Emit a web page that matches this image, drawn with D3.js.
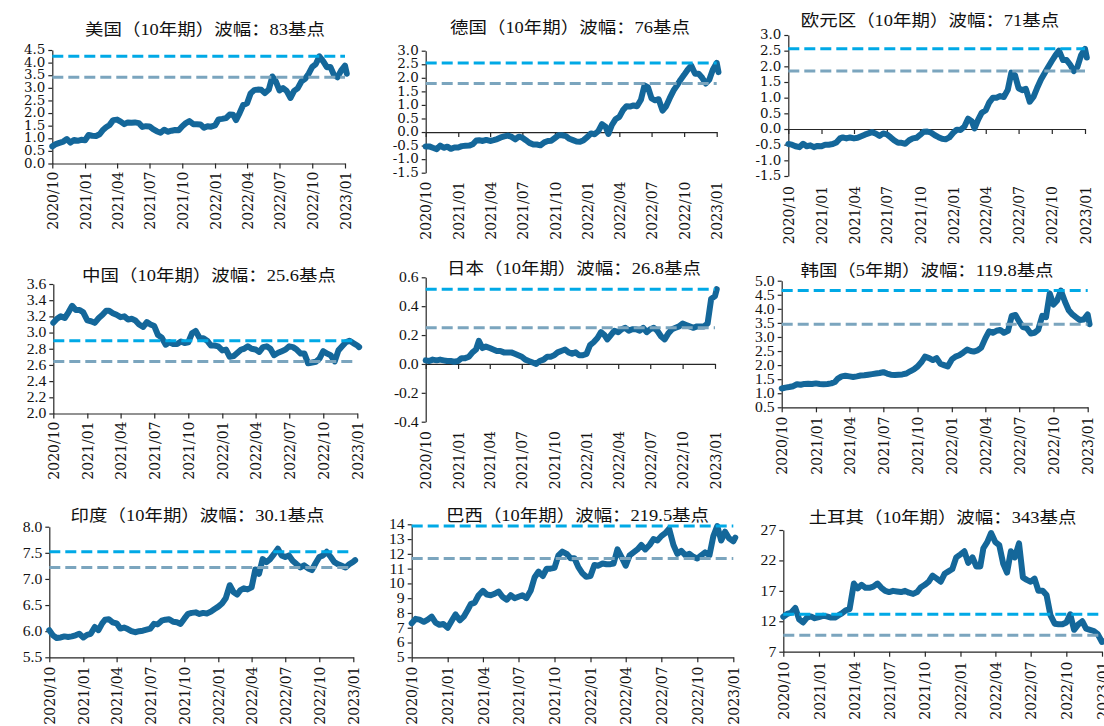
<!DOCTYPE html>
<html>
<head>
<meta charset="utf-8">
<script src="https://cdn.jsdelivr.net/npm/d3@7"></script>
<style>
  body { margin: 0; background: #fff; }
  svg { display: block; }
</style>
</head>
<body>
<svg id="chart" width="1104" height="726"></svg>
<script>
// Observation dates (roughly every ten days), shared by all nine series
const obsDates = [
  "2020-10-01","2020-10-11","2020-10-21","2020-11-01","2020-11-11","2020-11-21","2020-12-01","2020-12-11","2020-12-21",
  "2021-01-01","2021-01-11","2021-01-21","2021-02-01","2021-02-11","2021-02-21","2021-03-01","2021-03-11","2021-03-21",
  "2021-04-01","2021-04-11","2021-04-21","2021-05-01","2021-05-11","2021-05-21","2021-06-01","2021-06-11","2021-06-21",
  "2021-07-01","2021-07-11","2021-07-21","2021-08-01","2021-08-11","2021-08-21","2021-09-01","2021-09-11","2021-09-21",
  "2021-10-01","2021-10-11","2021-10-21","2021-11-01","2021-11-11","2021-11-21","2021-12-01","2021-12-11","2021-12-21",
  "2022-01-01","2022-01-11","2022-01-21","2022-02-01","2022-02-11","2022-02-21","2022-03-01","2022-03-11","2022-03-21",
  "2022-04-01","2022-04-11","2022-04-21","2022-05-01","2022-05-11","2022-05-21","2022-06-01","2022-06-11","2022-06-21",
  "2022-07-01","2022-07-11","2022-07-21","2022-08-01","2022-08-11","2022-08-21","2022-09-01","2022-09-11","2022-09-21",
  "2022-10-01","2022-10-11","2022-10-21","2022-11-01","2022-11-11","2022-11-21","2022-12-01","2022-12-11","2022-12-21",
  "2023-01-01","2023-01-06"
];

// Government bond yields, %
const usYield = [0.68,0.77,0.82,0.87,0.97,0.83,0.93,0.90,0.94,
  0.92,1.13,1.10,1.09,1.16,1.34,1.44,1.53,1.72,
  1.74,1.66,1.56,1.63,1.62,1.63,1.60,1.45,1.48,
  1.47,1.36,1.28,1.22,1.34,1.26,1.30,1.33,1.32,
  1.48,1.60,1.68,1.56,1.56,1.55,1.42,1.48,1.46,
  1.51,1.75,1.77,1.80,1.94,1.93,1.72,2.00,2.32,
  2.39,2.78,2.91,2.93,2.92,2.79,2.93,3.45,3.25,
  2.90,2.99,2.88,2.60,2.88,2.98,3.26,3.36,3.56,
  3.83,3.94,4.25,4.05,3.82,3.83,3.51,3.42,3.68,
  3.88,3.56];

const deYield = [-0.53,-0.53,-0.58,-0.63,-0.50,-0.58,-0.54,-0.62,-0.57,
  -0.57,-0.52,-0.51,-0.50,-0.45,-0.31,-0.30,-0.33,-0.29,
  -0.33,-0.30,-0.26,-0.20,-0.16,-0.13,-0.18,-0.27,-0.17,
  -0.21,-0.30,-0.40,-0.46,-0.46,-0.49,-0.38,-0.33,-0.32,
  -0.22,-0.12,-0.12,-0.15,-0.25,-0.30,-0.35,-0.36,-0.30,
  -0.18,-0.05,-0.08,0.04,0.29,0.20,-0.07,0.26,0.47,
  0.56,0.80,0.95,0.94,0.98,0.95,1.19,1.72,1.65,
  1.24,1.17,1.21,0.79,0.95,1.24,1.53,1.72,1.93,
  2.11,2.30,2.45,2.15,2.15,2.00,1.79,1.93,2.30,
  2.55,2.21];

const euYield = [-0.48,-0.50,-0.55,-0.58,-0.47,-0.55,-0.52,-0.58,-0.54,
  -0.55,-0.50,-0.50,-0.48,-0.43,-0.30,-0.27,-0.30,-0.27,
  -0.30,-0.28,-0.23,-0.18,-0.14,-0.10,-0.15,-0.22,-0.14,
  -0.17,-0.26,-0.36,-0.44,-0.44,-0.47,-0.36,-0.30,-0.28,
  -0.19,-0.09,-0.08,-0.12,-0.20,-0.26,-0.31,-0.33,-0.27,
  -0.12,-0.02,-0.03,0.08,0.33,0.25,0.02,0.30,0.52,
  0.60,0.85,1.00,1.00,1.05,1.02,1.25,1.80,1.72,
  1.30,1.24,1.28,0.87,1.02,1.30,1.58,1.78,1.98,
  2.17,2.35,2.50,2.20,2.20,2.05,1.85,1.98,2.35,
  2.56,2.28];

const cnYield = [3.12,3.17,3.20,3.18,3.25,3.33,3.28,3.28,3.25,
  3.15,3.14,3.12,3.18,3.22,3.27,3.27,3.24,3.22,
  3.19,3.20,3.16,3.17,3.15,3.10,3.07,3.13,3.10,
  3.08,2.97,2.94,2.85,2.88,2.86,2.86,2.89,2.87,
  2.88,2.99,3.02,2.93,2.93,2.90,2.84,2.84,2.83,
  2.78,2.79,2.70,2.71,2.75,2.79,2.80,2.83,2.80,
  2.79,2.76,2.82,2.83,2.80,2.72,2.75,2.77,2.79,
  2.83,2.82,2.79,2.74,2.74,2.62,2.63,2.64,2.68,
  2.77,2.74,2.72,2.644,2.78,2.83,2.88,2.90,2.87,
  2.84,2.82];

const jpYield = [0.025,0.02,0.03,0.025,0.03,0.025,0.02,0.02,0.015,
  0.02,0.04,0.04,0.05,0.08,0.10,0.16,0.11,0.12,
  0.11,0.10,0.09,0.09,0.08,0.08,0.08,0.07,0.06,
  0.05,0.03,0.02,0.01,0.00,0.02,0.03,0.05,0.05,
  0.06,0.08,0.09,0.10,0.08,0.07,0.08,0.06,0.06,
  0.07,0.13,0.15,0.18,0.22,0.20,0.17,0.20,0.23,
  0.22,0.24,0.25,0.23,0.24,0.24,0.23,0.25,0.22,
  0.24,0.25,0.23,0.19,0.17,0.21,0.24,0.25,0.26,
  0.28,0.27,0.26,0.25,0.26,0.26,0.26,0.28,0.45,
  0.47,0.518];

const krYield = [1.17,1.20,1.22,1.25,1.32,1.30,1.33,1.34,1.33,
  1.35,1.33,1.32,1.33,1.35,1.40,1.52,1.60,1.62,
  1.60,1.58,1.60,1.63,1.64,1.66,1.68,1.70,1.72,
  1.75,1.70,1.66,1.65,1.66,1.67,1.70,1.78,1.85,
  1.95,2.10,2.30,2.25,2.18,2.25,2.05,2.00,1.95,
  2.20,2.30,2.35,2.45,2.55,2.50,2.48,2.52,2.62,
  2.95,3.20,3.15,3.22,3.25,3.15,3.22,3.75,3.78,
  3.55,3.35,3.32,3.12,3.15,3.25,3.75,3.70,4.55,
  4.15,4.30,4.65,4.25,3.95,3.80,3.70,3.60,3.62,
  3.80,3.452];

const inYield = [6.02,5.92,5.87,5.88,5.90,5.89,5.90,5.92,5.95,
  5.88,5.93,5.95,6.08,6.02,6.15,6.22,6.23,6.17,
  6.15,6.05,6.07,6.04,6.00,5.98,6.00,6.01,6.03,
  6.05,6.14,6.13,6.20,6.22,6.23,6.18,6.17,6.14,
  6.24,6.33,6.35,6.36,6.33,6.35,6.34,6.37,6.42,
  6.47,6.53,6.63,6.88,6.75,6.70,6.78,6.82,6.80,
  6.84,7.18,7.10,7.38,7.32,7.38,7.48,7.58,7.45,
  7.42,7.45,7.35,7.28,7.22,7.26,7.20,7.17,7.30,
  7.42,7.45,7.52,7.42,7.32,7.28,7.25,7.219,7.28,
  7.33,7.36];

const brYield = [7.30,7.60,7.55,7.40,7.55,7.75,7.35,7.20,7.25,
  7.00,7.45,7.90,7.50,7.75,8.20,8.60,8.70,9.20,
  9.50,9.25,9.20,9.30,9.45,9.10,8.90,9.20,9.00,
  9.10,9.20,9.00,9.50,10.40,10.80,10.50,11.00,11.00,
  11.05,11.90,12.15,12.00,11.70,11.70,11.10,10.70,10.45,
  10.50,11.25,11.20,11.35,11.30,11.30,11.35,12.30,11.80,
  11.20,11.90,12.10,12.30,12.60,12.30,12.60,13.00,12.90,
  13.20,13.40,13.70,12.60,12.00,12.20,11.90,12.00,11.80,
  11.685,11.90,12.10,11.90,13.20,13.88,12.90,13.50,13.05,
  12.85,13.10];

const trYield = [12.75,13.20,13.40,14.20,12.30,11.80,12.60,12.80,12.50,
  12.70,12.90,12.80,12.60,12.60,13.00,13.30,13.80,14.00,
  18.20,17.40,18.00,17.50,17.50,17.70,18.20,17.50,17.00,
  16.80,17.00,16.90,16.80,17.00,16.70,16.50,16.80,17.60,
  18.00,18.50,19.50,19.00,18.50,19.80,20.20,20.60,22.50,
  23.00,23.50,21.60,22.50,21.00,21.00,24.00,25.00,26.50,
  25.00,24.50,21.50,20.00,23.50,22.50,24.80,19.20,18.80,
  18.50,19.00,17.00,17.00,16.30,13.00,11.60,11.50,11.50,
  11.80,13.15,10.60,11.50,12.00,10.80,10.60,10.40,9.90,
  8.60,8.70];

// Recent trading range: upper and lower reference levels, %
const rangeHigh = [4.25, 2.55, 2.56, 2.90, 0.518, 4.65, 7.52, 13.88, 13.15];
const rangeLow  = [3.42, 1.79, 1.85, 2.644, 0.25, 3.452, 7.219, 11.685, 9.72];

const panelTitles = [
  "美国（10年期）波幅：83基点",
  "德国（10年期）波幅：76基点",
  "欧元区（10年期）波幅：71基点",
  "中国（10年期）波幅：25.6基点",
  "日本（10年期）波幅：26.8基点",
  "韩国（5年期）波幅：119.8基点",
  "印度（10年期）波幅：30.1基点",
  "巴西（10年期）波幅：219.5基点",
  "土耳其（10年期）波幅：343基点"
];

const xTickLabels = ["2020/10","2021/01","2021/04","2021/07","2021/10",
                     "2022/01","2022/04","2022/07","2022/10","2023/01"];

const yTickSets = [
  [0.0,0.5,1.0,1.5,2.0,2.5,3.0,3.5,4.0,4.5],
  [-1.5,-1.0,-0.5,0.0,0.5,1.0,1.5,2.0,2.5,3.0],
  [-1.5,-1.0,-0.5,0.0,0.5,1.0,1.5,2.0,2.5,3.0],
  [2.0,2.2,2.4,2.6,2.8,3.0,3.2,3.4,3.6],
  [-0.4,-0.2,0.0,0.2,0.4,0.6],
  [0.5,1.0,1.5,2.0,2.5,3.0,3.5,4.0,4.5,5.0],
  [5.5,6.0,6.5,7.0,7.5,8.0],
  [5,6,7,8,9,10,11,12,13,14],
  [7,12,17,22,27]
];
const yDecimals = [1,1,1,1,1,1,1,0,0];

const seriesList = [usYield, deYield, euYield, cnYield, jpYield, krYield, inYield, brYield, trYield];

// Plot boxes on the page (pixels)
const frames = [
  {left:52.3,  right:345,    top:50,    bottom:163.5, labelTop:171.5, titleX:205,   titleY:35},
  {left:425.7, right:716.7,  top:50.7,  bottom:172.7, labelTop:181.5, titleX:570,   titleY:33},
  {left:788.3, right:1085,   top:35,    bottom:176,   labelTop:186,   titleX:930,   titleY:26},
  {left:53.3,  right:357.3,  top:284,   bottom:413.5, labelTop:421.5, titleX:209,   titleY:281},
  {left:425.7, right:715,    top:277.3, bottom:421.7, labelTop:431,   titleX:574,   titleY:273.5},
  {left:781.7, right:1087.7, top:280.7, bottom:407.3, labelTop:416.5, titleX:927,   titleY:275.5},
  {left:49.3,  right:353.3,  top:526.7, bottom:657.3, labelTop:666.5, titleX:197.5, titleY:520.5},
  {left:411.7, right:733.3,  top:524.3, bottom:657.3, labelTop:666.5, titleX:577.5, titleY:521},
  {left:783.3, right:1102,   top:530,   bottom:651.7, labelTop:661.5, titleX:942.5, titleY:523}
];

const SX = 1.12;            // horizontal text widening
const lineColor = "#14679A";
const highColor = "#00A9E6";
const lowColor  = "#7BA5BE";
const axisColor = "#262626";
const textColor = "#111";

const parseDay = d3.timeParse("%Y-%m-%d");
const parseMonth = d3.timeParse("%Y/%m");
const dates = obsDates.map(parseDay);
const tickDates = xTickLabels.map(parseMonth);

const svg = d3.select("#chart");
svg.append("rect").attr("width", 1104).attr("height", 726).attr("fill", "#fff");

frames.forEach((f, i) => {
  const vals = seriesList[i];
  const ticks = yTickSets[i];
  const g = svg.append("g");

  const x = d3.scaleTime()
    .domain([tickDates[0], tickDates[tickDates.length - 1]])
    .range([f.left, f.right]);
  const y = d3.scaleLinear()
    .domain([ticks[0], ticks[ticks.length - 1]])
    .range([f.bottom, f.top]);

  // value axis
  g.append("g")
    .attr("transform", `translate(${f.left},0)`)
    .call(d3.axisLeft(y).tickValues(ticks).tickSize(4).tickSizeOuter(0).tickFormat(""))
    .call(a => a.selectAll("text").remove());

  // time axis sits on zero when the scale goes negative
  const baseY = ticks[0] < 0 ? y(0) : f.bottom;
  g.append("g")
    .attr("transform", `translate(0,${baseY})`)
    .call(d3.axisBottom(x).tickValues(tickDates).tickSize(5).tickSizeOuter(0).tickFormat(""))
    .call(a => a.selectAll("text").remove());

  g.selectAll(".domain, .tick line")
    .attr("stroke", axisColor)
    .attr("stroke-width", 1.2);

  // value labels
  const yFont = i < 3 ? "'DejaVu Serif', serif" : "'Liberation Serif', serif";
  const ySize = i < 3 ? 12 : 14;
  g.selectAll("text.ylab")
    .data(ticks)
    .join("text")
    .attr("class", "ylab")
    .attr("transform", d => `translate(${f.left - 7},${y(d)}) scale(${SX},1)`)
    .attr("dy", "0.35em")
    .attr("text-anchor", "end")
    .attr("font-family", yFont)
    .attr("font-size", ySize)
    .attr("fill", textColor)
    .text(d => d.toFixed(yDecimals[i]));

  // date labels, rotated
  g.selectAll("text.xlab")
    .data(tickDates)
    .join("text")
    .attr("class", "xlab")
    .attr("transform", d => `translate(${x(d)},${f.labelTop}) scale(${SX},1) rotate(-90)`)
    .attr("dy", "0.36em")
    .attr("text-anchor", "end")
    .attr("font-family", "'DejaVu Serif', serif")
    .attr("font-size", 14)
    .attr("fill", textColor)
    .text((d, j) => xTickLabels[j]);

  // yield line
  const line = d3.line()
    .x((d, j) => x(dates[j]))
    .y(d => y(d));
  g.append("path")
    .datum(vals)
    .attr("d", line)
    .attr("fill", "none")
    .attr("stroke", lineColor)
    .attr("stroke-width", 6)
    .attr("stroke-linejoin", "round")
    .attr("stroke-linecap", "round");

  // range reference lines
  [[rangeHigh[i], highColor], [rangeLow[i], lowColor]].forEach(([v, c]) => {
    g.append("line")
      .attr("x1", f.left).attr("x2", f.right)
      .attr("y1", y(v)).attr("y2", y(v))
      .attr("stroke", c)
      .attr("stroke-width", 3)
      .attr("stroke-dasharray", "11,5");
  });

  // title
  g.append("text")
    .attr("transform", `translate(${f.titleX},${f.titleY}) scale(${SX},1)`)
    .attr("text-anchor", "middle")
    .attr("font-family", "'Liberation Serif', 'Noto Sans CJK SC', serif")
    .attr("font-size", 16.5)
    .attr("fill", textColor)
    .text(panelTitles[i]);
});
</script>
</body>
</html>
